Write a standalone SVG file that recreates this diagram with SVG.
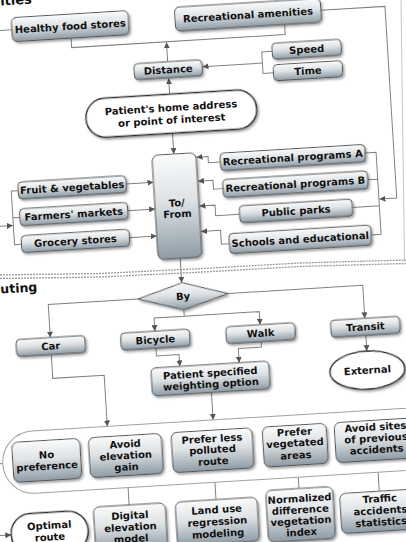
<svg xmlns="http://www.w3.org/2000/svg" width="406" height="542" viewBox="0 0 406 542">
<defs>
<linearGradient id="g" x1="0" y1="0" x2="0" y2="1"><stop offset="0" stop-color="#fafbfc"/><stop offset="0.45" stop-color="#dde2e5"/><stop offset="1" stop-color="#8e9ba5"/></linearGradient>
<filter id="sh" x="-10%" y="-15%" width="125%" height="150%"><feDropShadow dx="1.5" dy="2" stdDeviation="1" flood-color="#000" flood-opacity="0.35"/></filter>
<marker id="arr" viewBox="0 0 8 8" refX="8" refY="4" markerWidth="6" markerHeight="6" orient="auto" markerUnits="userSpaceOnUse"><path d="M0,0 L8,4 L0,8 z" fill="#555"/></marker>
</defs>
<style>
.b{fill:url(#g);stroke:#505050;stroke-width:1;filter:url(#sh)}
.o{fill:#fff;stroke:#2a2a2a;stroke-width:1.5;filter:url(#sh)}
.t{font-family:"DejaVu Sans","Liberation Sans",sans-serif;font-weight:bold;font-size:10px;fill:#111;text-anchor:middle}
.h{font-family:"DejaVu Sans","Liberation Sans",sans-serif;font-weight:bold;font-size:13px;fill:#111}
.c{fill:none;stroke:#808080;stroke-width:1}
.a{marker-end:url(#arr)}
.sep{fill:none;stroke:#9a9a9a;stroke-width:1.3;stroke-dasharray:2 1}
</style>
<rect width="406" height="542" fill="#fff"/>
<g id="separator">
<path class="sep" d="M0,275 L100,273.5 L203,268.5 L300,263 L406,260"/>
<path class="sep" d="M0,278.5 L100,277 L203,272 L300,266.5 L406,263.5"/>
<path d="M401,0 L404.5,262" fill="none" stroke="#c4c4c4" stroke-width="1"/>
</g>
<g transform="rotate(-3.5 203 271)">
<text class="h" x="17" y="-6.4">ities</text>
<text class="h" x="-0.4" y="281.2" style="font-size:12.5px">uting</text>
<g id="connectors">
<path class="c" d="M85.5,30.5 V40 H299.5 V30"/>
<path class="c a" d="M180.5,60 V40.5"/>
<path class="c a" d="M180.5,92.5 V76.5"/>
<path class="c" d="M285.5,56 H275 V77.5 H285.5"/>
<path class="c a" d="M275,67 H215"/>
<path class="c a" d="M336.5,18 H400.8 V210 H383.5"/>
<path class="c" d="M372,163 H383 V245.3 H373 M373,190 H383 M356,216.7 H383"/>
<path class="c a" d="M227,163.2 H215 V157 H203.5"/>
<path class="c a" d="M228,190 H218.5 V181 H203.5"/>
<path class="c a" d="M243,216.7 H219 V206 H203.5"/>
<path class="c a" d="M231,245.3 H223 V231.5 H203.5"/>
<path class="c a" d="M131.5,179.5 H159"/>
<path class="c a" d="M131.5,206.3 H159"/>
<path class="c a" d="M131.5,233.2 H159"/>
<path class="c" d="M23.5,179.5 H16.5 V233.2 H23.5 M23.5,206.3 H16.5"/>
<path class="c a" d="M-20,214 H16"/>
<path class="c" d="M27,18.5 H-20"/>
<path class="c a" d="M181,131.5 V152.5"/>
<path class="c a" d="M181,257 V281.5"/>
<path class="c a" d="M136.5,295 H46.5 V328.1"/>
<path class="c a" d="M226.5,295 H361.6 V328.1"/>
<path class="c a" d="M181.5,308.5 V315 H151.3 V328.1"/>
<path class="c a" d="M181.5,315 H256.7 V328.1"/>
<path class="c a" d="M361.6,345.1 V361"/>
<path class="c a" d="M151.3,345.1 V353 H174 V364.8"/>
<path class="c a" d="M256.7,345.1 V350.5 H233.5 V364.8"/>
<path class="c a" d="M46.5,345.1 V369 H98 V420.3"/>
<path class="c a" d="M204,392.8 V420.3"/>
<path class="c" d="M-20,451 H-8.6"/>
<path class="c a" d="M115,500 V470.5"/>
<path class="c a" d="M202,500 V470.5"/>
<path class="c a" d="M285.5,494 V470.5"/>
<path class="c a" d="M365.5,501.6 V470.5"/>
<path class="c a" d="M-20,522.7 H-4.5"/>
</g>
<g id="healthy-food"><rect class="b" x="27" y="6.5" width="117" height="24" rx="5"/><text class="t" x="85.5" y="22.2">Healthy food stores</text></g>
<g id="rec-amenities"><rect class="b" x="190.5" y="6" width="146" height="24" rx="5"/><text class="t" x="263.5" y="21.7">Recreational amenities</text></g>
<g id="distance"><rect class="b" x="146.5" y="60" width="68" height="16" rx="4"/><text class="t" x="180.5" y="71.6">Distance</text></g>
<g id="speed"><rect class="b" x="285.5" y="48" width="69" height="16" rx="4"/><text class="t" x="320" y="59.6">Speed</text></g>
<g id="time"><rect class="b" x="285.5" y="69.5" width="69" height="16" rx="4"/><text class="t" x="320" y="81.1">Time</text></g>
<g id="patient-home"><rect class="o" x="95.5" y="92.5" width="171" height="39" rx="19.5"/><text class="t" x="181" y="109.5">Patient's home address</text><text class="t" x="181" y="122">or point of interest</text></g>
<g id="to-from"><rect class="b" x="159" y="152.5" width="44" height="104.5" rx="6"/><text class="t" x="181" y="205">To/</text><text class="t" x="181" y="216">From</text></g>
<g id="fruit"><rect class="b" x="23.5" y="171" width="108" height="17" rx="4"/><text class="t" x="77.5" y="183.1">Fruit &amp; vegetables</text></g>
<g id="farmers"><rect class="b" x="23.5" y="197.8" width="108" height="17" rx="4"/><text class="t" x="77.5" y="209.9">Farmers' markets</text></g>
<g id="grocery"><rect class="b" x="23.5" y="224.7" width="108" height="17" rx="4"/><text class="t" x="77.5" y="236.8">Grocery stores</text></g>
<g id="rec-a"><rect class="b" x="227" y="154.5" width="145" height="17.5" rx="4"/><text class="t" x="299.5" y="166.8">Recreational programs A</text></g>
<g id="rec-b"><rect class="b" x="228" y="181" width="145" height="18" rx="4"/><text class="t" x="300.5" y="193.6">Recreational programs B</text></g>
<g id="parks"><rect class="b" x="243" y="208.2" width="113" height="17" rx="4"/><text class="t" x="299.5" y="220.3">Public parks</text></g>
<g id="schools"><rect class="b" x="231" y="235.3" width="142" height="20" rx="4"/><text class="t" x="302" y="248.9">Schools and educational</text></g>
<g id="by"><polygon class="b" points="136.5,295 181.5,281.5 226.5,295 181.5,308.5"/><text class="t" x="181.5" y="298.6">By</text></g>
<g id="car"><rect class="b" x="12" y="328.1" width="69" height="17" rx="4"/><text class="t" x="46.5" y="340.2">Car</text></g>
<g id="bicycle"><rect class="b" x="116.8" y="328.1" width="69" height="17" rx="4"/><text class="t" x="151.3" y="340.2">Bicycle</text></g>
<g id="walk"><rect class="b" x="222.2" y="328.1" width="69" height="17" rx="4"/><text class="t" x="256.7" y="340.2">Walk</text></g>
<g id="transit"><rect class="b" x="327.1" y="328.1" width="69" height="17" rx="4"/><text class="t" x="361.6" y="340.2">Transit</text></g>
<g id="external"><ellipse class="o" cx="361" cy="380" rx="37.5" ry="19"/><text class="t" x="361" y="383.6">External</text></g>
<g id="weighting"><rect class="b" x="145" y="364.8" width="118" height="28" rx="5"/><text class="t" x="204" y="376.9">Patient specified</text><text class="t" x="204" y="388">weighting option</text></g>
<g id="options-container"><rect x="-8.6" y="420.3" width="470" height="62.3" rx="31" fill="#fff" stroke="#a0a0a0" stroke-width="1"/></g>
<g id="no-pref"><rect class="b" x="1.5" y="430.5" width="68" height="40" rx="6"/><text class="t" x="35.5" y="448.3">No</text><text class="t" x="35.5" y="459.8">preference</text></g>
<g id="avoid-elev"><rect class="b" x="78.2" y="430.5" width="73" height="40" rx="6"/><text class="t" x="114.7" y="442.5">Avoid</text><text class="t" x="114.7" y="454">elevation</text><text class="t" x="114.7" y="465.5">gain</text></g>
<g id="less-polluted"><rect class="b" x="161.1" y="430.5" width="81" height="40" rx="6"/><text class="t" x="201.6" y="442.4">Prefer less</text><text class="t" x="201.6" y="453.4">polluted</text><text class="t" x="201.6" y="465.1">route</text></g>
<g id="vegetated"><rect class="b" x="252.4" y="430.5" width="64" height="40" rx="6"/><text class="t" x="284.4" y="440.7">Prefer</text><text class="t" x="284.4" y="451.8">vegetated</text><text class="t" x="284.4" y="464.1">areas</text></g>
<g id="avoid-accidents"><rect class="b" x="324.5" y="430.5" width="82" height="40" rx="6"/><text class="t" x="365.5" y="440.7">Avoid sites</text><text class="t" x="365.5" y="451.9">of previous</text><text class="t" x="365.5" y="463.3">accidents</text></g>
<g id="dem"><rect class="b" x="79" y="500" width="72" height="46" rx="6"/><text class="t" x="115" y="514">Digital</text><text class="t" x="115" y="525.7">elevation</text><text class="t" x="115" y="537.3">model</text></g>
<g id="lur"><rect class="b" x="161" y="500" width="82" height="44" rx="6"/><text class="t" x="202" y="513.5">Land use</text><text class="t" x="202" y="525.5">regression</text><text class="t" x="202" y="537.5">modeling</text></g>
<g id="ndvi"><rect class="b" x="252" y="494" width="67" height="52" rx="6"/><text class="t" x="285.5" y="507.5">Normalized</text><text class="t" x="285.5" y="518.8">difference</text><text class="t" x="285.5" y="530">vegetation</text><text class="t" x="285.5" y="541.2">index</text></g>
<g id="traffic"><rect class="b" x="325.7" y="501.6" width="80" height="40" rx="6"/><text class="t" x="365.5" y="512.5">Traffic</text><text class="t" x="365.5" y="524.3">accidents</text><text class="t" x="365.5" y="536">statistics</text></g>
<g id="optimal"><rect class="o" x="-4.5" y="502.4" width="77" height="40.6" rx="20"/><text class="t" x="34" y="519.1">Optimal</text><text class="t" x="34" y="530.8">route</text></g>
</g>
</svg>
